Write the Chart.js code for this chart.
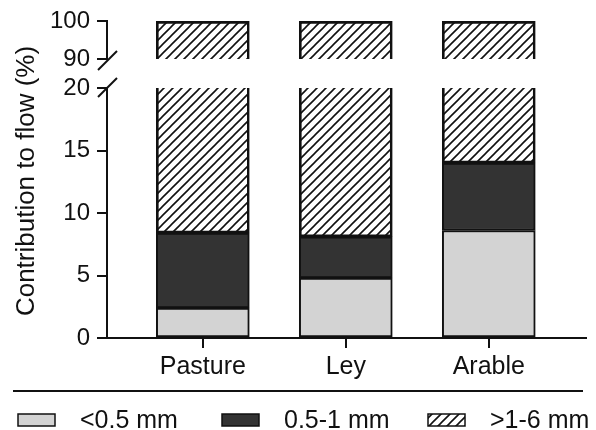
<!DOCTYPE html>
<html>
<head>
<meta charset="utf-8">
<script src="https://cdn.jsdelivr.net/npm/chart.js@4"></script>
<style>
  body { margin: 0; background: #fff; }
  #wrap { position: relative; width: 596px; height: 430px; }
  canvas { position: absolute; left: 0; top: 0; }
</style>
</head>
<body>
<div id="wrap">
  <canvas id="upper" width="596" height="430"></canvas>
  <canvas id="lower" width="596" height="430"></canvas>
</div>
<script>
const categories = ['Pasture', 'Ley', 'Arable'];
const fine = [2.4, 4.8, 8.6];      // <0.5 mm
const medium = [6.0, 3.3, 5.4];    // 0.5-1 mm
const coarse = [91.6, 91.9, 86.0]; // >1-6 mm
const seriesNames = ['<0.5 mm', '0.5-1 mm', '>1-6 mm'];
const lowerTicks = [0, 5, 10, 15, 20];
const upperTicks = [90, 100];

const FONT = "'Liberation Sans', Arial, sans-serif";
const INK = '#111';
const LIGHT = '#d3d3d3';
const DARK = '#333333';

function makeHatch() {
    const c = document.createElement('canvas');
    c.width = 9; c.height = 9;
    const g = c.getContext('2d');
    g.strokeStyle = INK;
    g.lineWidth = 1.6;
    g.beginPath();
    g.moveTo(0, 9); g.lineTo(9, 0);
    g.moveTo(-1, 1); g.lineTo(1, -1);
    g.moveTo(8, 10); g.lineTo(10, 8);
    g.stroke();
    return g.createPattern(c, 'repeat');
}
const hatch = makeHatch();

function toPoints(arr) {
    return arr.map((v, i) => ({ x: i, y: v }));
}

function makeDatasets(clip) {
    const colors = [LIGHT, DARK, hatch];
    return [fine, medium, coarse].map((arr, i) => ({
        label: seriesNames[i],
        data: toPoints(arr),
        backgroundColor: colors[i],
        borderColor: INK,
        borderWidth: 2,
        borderSkipped: false,
        barThickness: 93,
        clip: clip
    }));
}

const xScale = (show) => ({
    type: 'linear',
    stacked: true,
    offset: false,
    min: -0.67,
    max: 2.68,
    display: show,
    afterBuildTicks: s => { s.ticks = categories.map((c, i) => ({ value: i })); },
    afterFit: s => { if (show) s.height = 92; },
    grid: { offset: false, drawOnChartArea: false, drawTicks: true, tickLength: 10, color: INK, lineWidth: 2 },
    border: { display: true, color: INK, width: 2 },
    ticks: {
        color: INK,
        font: { family: FONT, size: 25 },
        padding: 4,
        maxRotation: 0,
        callback: v => categories[v] ?? ''
    }
});

const yScale = (min, max, tickVals) => ({
    type: 'linear',
    stacked: true,
    min: min,
    max: max,
    afterBuildTicks: s => { s.ticks = tickVals.map(v => ({ value: v })); },
    afterFit: s => { s.width = 107; },
    grid: { drawOnChartArea: false, drawTicks: true, tickLength: 10, color: INK, lineWidth: 2 },
    border: { display: true, color: INK, width: 2 },
    ticks: {
        color: INK,
        font: { family: FONT, size: 24 },
        padding: 7
    }
});

function slash(ctx, x, y) {
    ctx.save();
    ctx.strokeStyle = INK;
    ctx.lineWidth = 2;
    ctx.beginPath();
    ctx.moveTo(x - 9, y + 9);
    ctx.lineTo(x + 10, y - 10);
    ctx.stroke();
    ctx.restore();
}

const upperDeco = {
    id: 'upperDeco',
    afterDraw(chart) {
        const a = chart.chartArea;
        slash(chart.ctx, a.left, a.bottom + 2);
    }
};

const lowerDeco = {
    id: 'lowerDeco',
    afterDraw(chart) {
        const ctx = chart.ctx;
        const a = chart.chartArea;
        const xs = chart.scales.x;
        slash(ctx, a.left, a.top);

        // category tick marks
        ctx.save();
        ctx.strokeStyle = INK;
        ctx.lineWidth = 2;
        ctx.beginPath();
        categories.forEach((c, i) => {
            const px = Math.round(xs.getPixelForValue(i)) + 0.0;
            ctx.moveTo(px, a.bottom);
            ctx.lineTo(px, a.bottom + 10);
        });
        ctx.stroke();
        ctx.restore();

        // y title
        ctx.save();
        ctx.translate(34, 181);
        ctx.rotate(-Math.PI / 2);
        ctx.fillStyle = INK;
        ctx.font = '26px ' + FONT;
        ctx.textAlign = 'center';
        ctx.textBaseline = 'alphabetic';
        ctx.fillText('Contribution to flow (%)', 0, 0);
        ctx.restore();

        // separator line
        ctx.save();
        ctx.strokeStyle = INK;
        ctx.lineWidth = 2;
        ctx.beginPath();
        ctx.moveTo(13, 391);
        ctx.lineTo(583, 391);
        ctx.stroke();
        ctx.restore();

        // legend
        const boxX = [18, 222, 428];
        const textX = [80, 284, 490];
        const fills = [LIGHT, DARK, hatch];
        ctx.save();
        ctx.font = '25px ' + FONT;
        ctx.textBaseline = 'alphabetic';
        ctx.textAlign = 'left';
        seriesNames.forEach((name, i) => {
            ctx.fillStyle = fills[i];
            ctx.fillRect(boxX[i], 414, 37, 12);
            ctx.strokeStyle = INK;
            ctx.lineWidth = 1.5;
            ctx.strokeRect(boxX[i], 414, 37, 12);
            ctx.fillStyle = INK;
            ctx.fillText(name, textX[i], 428);
        });
        ctx.restore();
    }
};

const baseOptions = {
    responsive: false,
    animation: false,
    plugins: { legend: { display: false }, tooltip: { enabled: false } }
};

new Chart(document.getElementById('upper'), {
    type: 'bar',
    data: { datasets: makeDatasets({ left: 5, right: 5, top: 5, bottom: 0 }) },
    options: {
        ...baseOptions,
        layout: { padding: { top: 21, bottom: 371, left: 0, right: 10 } },
        scales: { x: xScale(false), y: yScale(90, 100, upperTicks) }
    },
    plugins: [upperDeco]
});

new Chart(document.getElementById('lower'), {
    type: 'bar',
    data: { datasets: makeDatasets({ left: 5, right: 5, top: 0, bottom: 0 }) },
    options: {
        ...baseOptions,
        layout: { padding: { top: 88, bottom: 0, left: 0, right: 10 } },
        scales: { x: xScale(true), y: yScale(0, 20, lowerTicks) }
    },
    plugins: [lowerDeco]
});
</script>
</body>
</html>
